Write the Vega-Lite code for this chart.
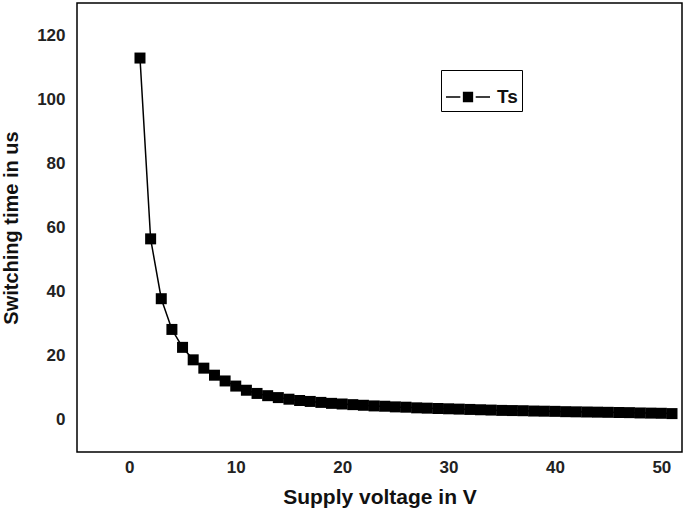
{
  "$schema": "https://vega.github.io/schema/vega-lite/v6.json",
  "width": 605,
  "height": 449,
  "autosize": {"type": "none"},
  "padding": {"left": 77, "top": 3, "right": 3, "bottom": 71},
  "background": "white",
  "config": {
    "view": {"stroke": "black", "strokeWidth": 1.5},
    "font": "Liberation Sans"
  },
  "data": {
    "values": [
      {"v": 1, "t": 113.1}, {"v": 2, "t": 56.6}, {"v": 3, "t": 37.9}, {"v": 4, "t": 28.3},
      {"v": 5, "t": 22.7}, {"v": 6, "t": 18.8}, {"v": 7, "t": 16.2}, {"v": 8, "t": 14.0},
      {"v": 9, "t": 12.2}, {"v": 10, "t": 10.6}, {"v": 11, "t": 9.3}, {"v": 12, "t": 8.3},
      {"v": 13, "t": 7.6}, {"v": 14, "t": 7.0}, {"v": 15, "t": 6.5}, {"v": 16, "t": 6.1},
      {"v": 17, "t": 5.8}, {"v": 18, "t": 5.5}, {"v": 19, "t": 5.2}, {"v": 20, "t": 5.0},
      {"v": 21, "t": 4.8}, {"v": 22, "t": 4.6}, {"v": 23, "t": 4.4}, {"v": 24, "t": 4.3},
      {"v": 25, "t": 4.1}, {"v": 26, "t": 4.0}, {"v": 27, "t": 3.8}, {"v": 28, "t": 3.7},
      {"v": 29, "t": 3.6}, {"v": 30, "t": 3.5}, {"v": 31, "t": 3.4}, {"v": 32, "t": 3.3},
      {"v": 33, "t": 3.2}, {"v": 34, "t": 3.1}, {"v": 35, "t": 3.0}, {"v": 36, "t": 2.95},
      {"v": 37, "t": 2.9}, {"v": 38, "t": 2.8}, {"v": 39, "t": 2.75}, {"v": 40, "t": 2.7},
      {"v": 41, "t": 2.6}, {"v": 42, "t": 2.55}, {"v": 43, "t": 2.5}, {"v": 44, "t": 2.45},
      {"v": 45, "t": 2.4}, {"v": 46, "t": 2.35}, {"v": 47, "t": 2.3}, {"v": 48, "t": 2.2},
      {"v": 49, "t": 2.15}, {"v": 50, "t": 2.1}, {"v": 51, "t": 2.0}
    ]
  },
  "encoding": {
    "x": {
      "field": "v", "type": "quantitative",
      "scale": {"domain": [-4.92, 51.94], "nice": false, "zero": false},
      "axis": {
        "title": "Supply voltage in V", "values": [0, 10, 20, 30, 40, 50],
        "domain": false, "ticks": false, "grid": false,
        "labelFont": "Liberation Sans", "labelFontWeight": "bold", "labelFontSize": 17,
        "labelColor": "#222222", "labelPadding": 7, "labelDx": -6,
        "titleFont": "Liberation Sans", "titleFontWeight": "bold", "titleFontSize": 21,
        "titleColor": "#111111", "titlePadding": 11
      }
    },
    "y": {
      "field": "t", "type": "quantitative",
      "scale": {"domain": [-10, 130.3], "nice": false, "zero": false},
      "axis": {
        "title": "Switching time in us", "values": [0, 20, 40, 60, 80, 100, 120],
        "domain": false, "ticks": false, "grid": false,
        "labelFont": "Liberation Sans", "labelFontWeight": "bold", "labelFontSize": 17,
        "labelColor": "#222222", "labelPadding": 12,
        "titleFont": "Liberation Sans", "titleFontWeight": "bold", "titleFontSize": 20,
        "titleColor": "#111111", "titlePadding": 15
      }
    }
  },
  "layer": [
    {
      "mark": {"type": "line", "color": "black", "strokeWidth": 1.5}
    },
    {
      "mark": {"type": "point", "shape": "square", "filled": true, "opacity": 1, "size": 121},
      "encoding": {
        "color": {
          "datum": "Ts",
          "scale": {"range": ["black"]},
          "legend": {
            "title": null,
            "orient": "none",
            "legendX": 364,
            "legendY": 67,
            "strokeColor": "black",
            "fillColor": "white",
            "padding": 4,
            "symbolType": "M-1,0H-0.35M0.35,0H1M-0.2,-0.2H0.2V0.2H-0.2Z",
            "symbolSize": 1936,
            "symbolStrokeWidth": 1.5,
            "symbolStrokeColor": "black",
            "symbolFillColor": "black",
            "labelFont": "Liberation Sans",
            "labelFontWeight": "bold",
            "labelFontSize": 19,
            "labelColor": "#111111",
            "labelOffset": 6
          }
        }
      }
    }
  ]
}
